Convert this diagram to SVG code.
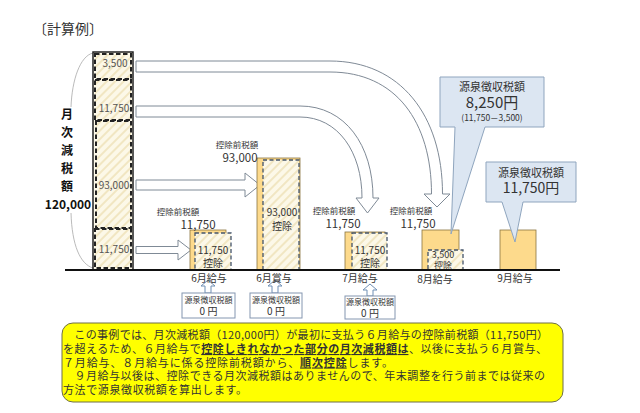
<svg xmlns="http://www.w3.org/2000/svg" width="640" height="413" viewBox="0 0 640 413">
<defs>
<pattern id="hatch" patternUnits="userSpaceOnUse" width="6" height="6" patternTransform="rotate(45)">
<rect width="6" height="6" fill="#FCF8E8"/>
<rect width="2" height="6" fill="#F1E6C2"/>
</pattern>
</defs>
<style>
text{font-family:"Noto Sans CJK JP","Noto Sans",sans-serif;fill:#333}
.arrow{fill:#fff;stroke:#7F8A96;stroke-width:1}
.orange{fill:#FDDA8C;stroke:#8A7440;stroke-width:0.8}
.hatchbox{fill:url(#hatch);stroke:#44546A;stroke-width:1.3;stroke-dasharray:4 2.5}
.colseg{fill:url(#hatch);stroke:#222;stroke-width:2;stroke-dasharray:4.5 2.5}
.small{font-size:8.5px;text-anchor:middle}
.val{font-size:11.5px;text-anchor:middle}
.inval{font-size:10px;text-anchor:middle}
.col{font-size:10px;text-anchor:middle;fill:#555}
.month{font-size:10px;text-anchor:middle}
.zbox{fill:#fff;stroke:#8496B0;stroke-width:1}
.uparrow{fill:#fff;stroke:#6F8FB5;stroke-width:1}
.callout{fill:#DCE6F2;stroke:#8FA5BE;stroke-width:1}
.para{font-size:11px}
.em{font-weight:bold;text-decoration:underline}
.lbl{font-size:12px;font-weight:bold;text-anchor:middle;fill:#111}
</style>

<text x="33" y="34" font-size="14">〔計算例〕</text>

<g id="brace">
<path d="M93,53 C80,56 72,80 71,107" fill="none" stroke="#A8A8A8" stroke-width="0.8"/>
<path d="M71,213 C72,245 80,264 93,268" fill="none" stroke="#A8A8A8" stroke-width="0.8"/>
<text class="lbl" x="67" y="119">月</text>
<text class="lbl" x="67" y="137">次</text>
<text class="lbl" x="67" y="155">減</text>
<text class="lbl" x="67" y="173">税</text>
<text class="lbl" x="67" y="191">額</text>
<text class="lbl" x="68" y="209">120,000</text>
</g>

<g id="column">
<rect x="93" y="52" width="40" height="218" fill="#FCF8E8" stroke="#222" stroke-width="1.5"/>
<rect class="colseg" x="95" y="54" width="36" height="25"/>
<rect class="colseg" x="95" y="80" width="36" height="40"/>
<rect class="colseg" x="96" y="121" width="35" height="107"/>
<rect class="colseg" x="95" y="229" width="36" height="39"/>
<text class="col" x="115" y="67">3,500</text>
<text class="col" x="114" y="112">11,750</text>
<text class="col" x="114" y="189">93,000</text>
<text class="col" x="114" y="253">11,750</text>
</g>

<g id="connectors">
<path class="arrow" d="M136,61 H330 C400,61 442.5,115 442.5,194 H450 L437,207 L424,194 H431.5 C431.5,122 396,72 330,72 H136 Z"/>
<path class="arrow" d="M136,106 H300 C345,106 373,145 373,198 H379 L367.5,213 L356,198 H362 C362,152 338,117 300,117 H136 Z"/>
<path class="arrow" d="M136,180 H245 V173 L260,185 L245,197 V190 H136 Z"/>
<path class="arrow" d="M136,246.5 H178 V240 L191,250 L178,260 V253.5 H136 Z"/>
<path class="uparrow" d="M208,280 L215,286 H211 V293 H205 V286 H201 Z"/>
<path class="uparrow" d="M275,280 L282,286 H278 V293 H272 V286 H268 Z"/>
<path class="uparrow" d="M370,284 L377,290 H373 V296 H367 V290 H363 Z"/>
</g>

<g id="bar-jun-salary">
<rect class="orange" x="190" y="230" width="36" height="40"/>
<rect class="hatchbox" x="195" y="233" width="36" height="37"/>
<text class="small" x="178" y="215">控除前税額</text>
<text class="val" x="198" y="228.5">11,750</text>
<text class="inval" x="213" y="254">11,750</text>
<text class="inval" x="213" y="266.5">控除</text>
</g>

<g id="bar-jun-bonus">
<rect class="orange" x="257" y="158" width="43" height="112"/>
<rect class="hatchbox" x="263" y="160" width="36" height="110"/>
<text class="small" x="237" y="148">控除前税額</text>
<text class="val" x="240" y="162">93,000</text>
<text class="inval" x="282" y="216">93,000</text>
<text class="inval" x="282" y="230">控除</text>
</g>

<g id="bar-jul">
<rect class="orange" x="345" y="232" width="40" height="38"/>
<rect class="hatchbox" x="352" y="233" width="35" height="37"/>
<text class="small" x="334" y="214">控除前税額</text>
<text class="val" x="343" y="228">11,750</text>
<text class="inval" x="370" y="254">11,750</text>
<text class="inval" x="370" y="266.5">控除</text>
</g>

<g id="bar-aug">
<rect class="orange" x="422" y="230" width="37" height="40"/>
<rect class="hatchbox" x="428" y="250" width="35" height="20"/>
<text class="small" x="411" y="214">控除前税額</text>
<text class="val" x="418" y="228">11,750</text>
<text x="443" y="257.5" font-size="9" text-anchor="middle">3,500</text>
<text x="443" y="269" font-size="9" text-anchor="middle">控除</text>
</g>

<g id="bar-sep">
<rect class="orange" x="500" y="230" width="36" height="40"/>
</g>

<line x1="65" y1="270" x2="560" y2="270" stroke="#111" stroke-width="2"/>

<g id="month-labels">
<text class="month" x="209" y="282">6月給与</text>
<text class="month" x="274" y="282">6月賞与</text>
<text class="month" x="360" y="282">7月給与</text>
<text class="month" x="435" y="283">8月給与</text>
<text class="month" x="515" y="282">9月給与</text>
</g>

<g id="zero-box-1">
<rect class="zbox" x="182" y="293" width="53" height="25"/>
<text x="208.5" y="302.5" font-size="8" text-anchor="middle">源泉徴収税額</text>
<text x="208.5" y="315" font-size="10" text-anchor="middle">0 円</text>
</g>
<g id="zero-box-2">
<rect class="zbox" x="250" y="293" width="52" height="25"/>
<text x="276" y="302.5" font-size="8" text-anchor="middle">源泉徴収税額</text>
<text x="276" y="315" font-size="10" text-anchor="middle">0 円</text>
</g>
<g id="zero-box-3">
<rect class="zbox" x="345" y="296" width="50" height="23"/>
<text x="370" y="305" font-size="8" text-anchor="middle">源泉徴収税額</text>
<text x="370" y="317" font-size="10" text-anchor="middle">0 円</text>
</g>

<g id="callout-aug">
<path class="callout" d="M440,77 H544 V127 H485 L451,234 L455,127 H440 Z"/>
<text x="492" y="91" font-size="11" text-anchor="middle">源泉徴収税額</text>
<text x="492" y="108" font-size="15" text-anchor="middle">8,250円</text>
<text x="492" y="121" font-size="8.5" text-anchor="middle">(11,750－3,500)</text>
</g>

<g id="callout-sep">
<path class="callout" d="M486,162 H576 V202 H523 L515,242 L502,202 H486 Z"/>
<text x="531" y="177" font-size="11" text-anchor="middle">源泉徴収税額</text>
<text x="531" y="193" font-size="14" text-anchor="middle">11,750円</text>
</g>

<g id="note">
<rect x="62" y="323" width="501" height="79" rx="11" fill="#FFFF00" stroke="#6F6F48" stroke-width="1"/>
<text class="para" x="63" y="339" textLength="485" lengthAdjust="spacing">　この事例では、月次減税額（120,000円）が最初に支払う６月給与の控除前税額（11,750円）</text>
<text class="para" x="63" y="353" textLength="484" lengthAdjust="spacing">を超えるため、６月給与で<tspan class="em">控除しきれなかった部分の月次減税額は</tspan>、以後に支払う６月賞与、</text>
<text class="para" x="63" y="366.5" textLength="330" lengthAdjust="spacing">７月給与、８月給与に係る控除前税額から、<tspan class="em">順次控除</tspan>します。</text>
<text class="para" x="63" y="380" textLength="482" lengthAdjust="spacing">　９月給与以後は、控除できる月次減税額はありませんので、年末調整を行う前までは従来の</text>
<text class="para" x="63" y="393.5" textLength="184" lengthAdjust="spacing">方法で源泉徴収税額を算出します。</text>
</g>
</svg>
